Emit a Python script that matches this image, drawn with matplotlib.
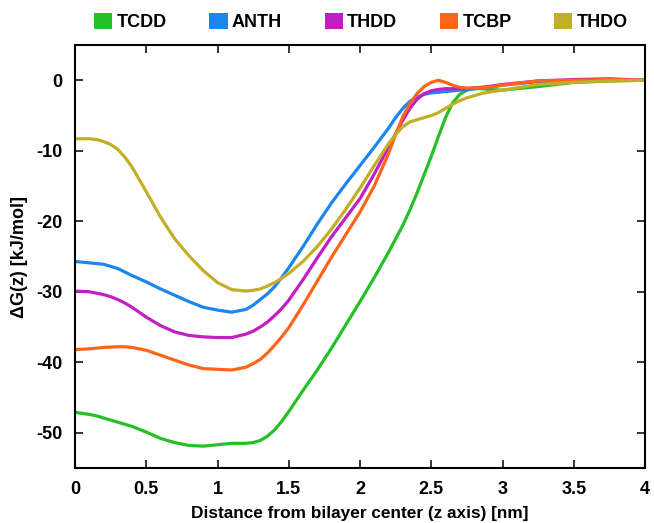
import matplotlib
matplotlib.use("Agg")
import matplotlib.pyplot as plt
from matplotlib.patches import Patch
from matplotlib.ticker import MultipleLocator, FuncFormatter

plt.rcParams["font.family"] = ["Liberation Sans", "DejaVu Sans"]
plt.rcParams["font.weight"] = "bold"

# distance from bilayer center [nm]
z = [0.0, 0.1, 0.15, 0.2, 0.25, 0.3, 0.35, 0.4, 0.5, 0.6,
     0.7, 0.8, 0.9, 1.0, 1.1, 1.2, 1.25, 1.3, 1.35, 1.4,
     1.45, 1.5, 1.6, 1.7, 1.8, 1.9, 2.0, 2.1, 2.2, 2.25,
     2.3, 2.35, 2.4, 2.45, 2.5, 2.55, 2.6, 2.65, 2.7, 2.75,
     2.8, 2.85, 2.9, 3.0, 3.25, 3.5, 3.75, 4.0]

# free energy profiles dG(z) [kJ/mol]
tcdd = [-47.1, -47.4, -47.6, -47.9, -48.2, -48.5, -48.8, -49.1, -49.9, -50.8,
        -51.4, -51.8, -51.9, -51.7, -51.5, -51.5, -51.4, -51.1, -50.5, -49.6,
        -48.4, -47.0, -44.0, -41.1, -38.0, -34.7, -31.4, -28.0, -24.4, -22.5,
        -20.6, -18.4, -16.0, -13.4, -10.8, -8.0, -5.3, -3.2, -2.0, -1.4,
        -1.2, -1.2, -1.3, -1.4, -0.9, -0.3, -0.1, 0.0]
anth = [-25.7, -25.9, -26.0, -26.1, -26.4, -26.7, -27.2, -27.7, -28.6, -29.6,
        -30.5, -31.4, -32.2, -32.6, -32.9, -32.5, -31.9, -31.1, -30.3, -29.3,
        -28.0, -26.6, -23.6, -20.4, -17.4, -14.7, -12.1, -9.5, -6.8, -5.3,
        -4.0, -3.0, -2.4, -2.0, -1.8, -1.7, -1.6, -1.5, -1.4, -1.3,
        -1.2, -1.1, -1.0, -0.7, -0.2, 0.0, 0.1, 0.0]
thdd = [-29.9, -30.0, -30.2, -30.4, -30.7, -31.1, -31.6, -32.2, -33.6, -34.8,
        -35.7, -36.2, -36.4, -36.5, -36.5, -36.0, -35.6, -35.0, -34.3, -33.4,
        -32.4, -31.2, -28.3, -25.2, -22.2, -19.5, -16.8, -13.3, -9.5, -7.6,
        -5.7, -4.0, -2.7, -1.9, -1.5, -1.3, -1.2, -1.2, -1.2, -1.2,
        -1.1, -1.0, -0.9, -0.6, -0.1, 0.1, 0.2, 0.0]
tcbp = [-38.2, -38.1, -38.0, -37.9, -37.85, -37.8, -37.8, -37.9, -38.3, -39.0,
        -39.7, -40.4, -40.9, -41.0, -41.1, -40.7, -40.2, -39.6, -38.7, -37.6,
        -36.4, -35.1, -31.9, -28.5, -25.1, -21.9, -18.7, -15.0, -10.4, -7.7,
        -5.2, -3.3, -1.9, -0.9, -0.3, 0.0, -0.3, -0.7, -1.0, -1.1,
        -1.1, -1.1, -1.0, -0.7, -0.1, 0.0, 0.1, 0.0]
thdo = [-8.3, -8.3, -8.4, -8.7, -9.1, -9.8, -10.9, -12.3, -15.8, -19.4,
        -22.5, -24.9, -27.0, -28.7, -29.7, -29.9, -29.8, -29.6, -29.2, -28.7,
        -28.1, -27.4, -25.7, -23.6, -21.1, -18.3, -15.3, -12.1, -9.0, -7.7,
        -6.6, -5.9, -5.6, -5.3, -5.0, -4.6, -4.0, -3.4, -2.9, -2.5,
        -2.2, -1.9, -1.7, -1.4, -0.6, -0.3, -0.1, 0.0]

names = ["TCDD", "ANTH", "THDD", "TCBP", "THDO"]
colors = ["#25c025", "#1c86ef", "#c11ec4", "#ff6418", "#c3af25"]

fig = plt.figure(figsize=(6.54, 5.23), dpi=100)
ax = fig.add_axes([75 / 654, 1 - 468 / 523, 570 / 654, 423 / 523])

for series, name, c in zip([tcdd, anth, thdd, tcbp, thdo], names, colors):
    ax.plot(z, series, color=c, linewidth=2.3, label=name,
            solid_capstyle="round", solid_joinstyle="round")

ax.set_xlim(0, 4)
ax.set_ylim(-55, 5)
ax.xaxis.set_major_locator(MultipleLocator(0.5))
ax.yaxis.set_major_locator(MultipleLocator(10))
ax.xaxis.set_major_formatter(FuncFormatter(lambda v, p: f"{v:g}"))
ax.yaxis.set_major_formatter(FuncFormatter(lambda v, p: f"{v:g}"))
ax.tick_params(direction="in", length=6, width=1.1, top=True, right=True,
               labelsize=13, pad=9)
for lab in ax.get_xticklabels() + ax.get_yticklabels():
    lab.set_fontweight("bold")
for sp in ax.spines.values():
    sp.set_linewidth(1.5)

ax.set_xlabel("Distance from bilayer center (z axis) [nm]", fontsize=12.4,
              fontweight="bold", labelpad=6)
ax.set_ylabel("\u0394G(z) [kJ/mol]", fontsize=13, fontweight="bold", labelpad=6)

handles = [Patch(facecolor=c, edgecolor="none", label=n) for n, c in zip(names, colors)]
fig.legend(handles=handles, loc="center", bbox_to_anchor=(0.552, 0.958), ncol=5,
           frameon=False, handlelength=1.0, handleheight=1.0, handletextpad=0.25,
           columnspacing=2.35, prop={"size": 13, "weight": "bold"})

fig.savefig("out.png", dpi=100)
